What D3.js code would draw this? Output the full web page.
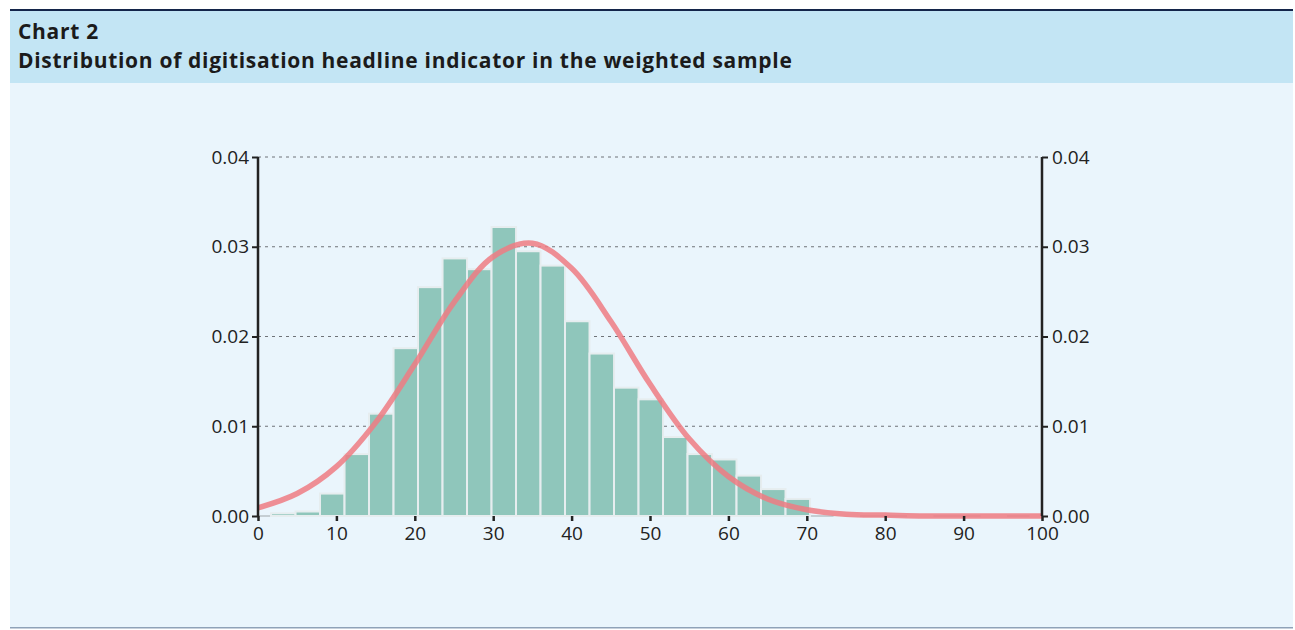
<!DOCTYPE html>
<html>
<head>
<meta charset="utf-8">
<script src="https://d3js.org/d3.v7.min.js"></script>
<style>
    body { margin: 0; background: #fff; }
    * { font-family: "Open Sans", sans-serif; }
    .axis text { font-size: 19px; fill: #222; }
    .grid line { stroke: #6f7378; stroke-dasharray: 3,4; }
    .bar { fill: #8fc6bb; stroke: #e6edef; stroke-width: 2; }
    .fit { fill: none; stroke: #ee7b82; stroke-opacity: 0.85; stroke-width: 5.5; }
</style>
</head>
<body>
<svg id="chart" width="1295" height="630"></svg>
<script>
// histogram bins (start of each bin, width 3.125)
var binStarts = [1.66, 4.79, 7.91, 11.04, 14.16, 17.29, 20.41, 23.54, 26.66, 29.79,
                 32.91, 36.04, 39.16, 42.29, 45.41, 48.54, 51.66, 54.79, 57.91, 61.04,
                 64.16, 67.29, 70.41, 73.54, 76.66, 79.79, 82.91, 86.04, 89.16, 92.29,
                 95.41, 98.54];
var binWidth = 3.125;
var density = [0.0003, 0.0005, 0.0025, 0.0069, 0.0114, 0.0187, 0.0255, 0.0287, 0.0275, 0.0322,
               0.0295, 0.0279, 0.0217, 0.0181, 0.0143, 0.0130, 0.0088, 0.0069, 0.0063, 0.0045,
               0.0030, 0.0019, 0, 0.0001, 0, 0, 0.0001, 0, 0, 0.0001,
               0, 0.0001];

// fitted density curve
var curveX = [0, 5, 10, 15, 20, 25, 30, 35, 40, 45, 50, 55, 60, 65, 70, 75, 80, 85, 90, 95, 100];
var curveY = [0.0009, 0.0025, 0.0055, 0.0104, 0.0169, 0.0238, 0.0289, 0.0304, 0.0276, 0.0217,
              0.0147, 0.0086, 0.0044, 0.0019, 0.0007, 0.0002, 0.0001, 0, 0, 0, 0];

var xTicks = [0, 10, 20, 30, 40, 50, 60, 70, 80, 90, 100];
var yTicks = [0, 0.01, 0.02, 0.03, 0.04];

var svg = d3.select("#chart");

// panel background
svg.append("rect").attr("x", 10).attr("y", 10).attr("width", 1283).attr("height", 618).attr("fill", "#eaf5fc");
svg.append("rect").attr("x", 10).attr("y", 10).attr("width", 1283).attr("height", 73).attr("fill", "#c3e5f4");
svg.append("rect").attr("x", 10).attr("y", 9).attr("width", 1283).attr("height", 2).attr("fill", "#14254a");
svg.append("rect").attr("x", 10).attr("y", 627).attr("width", 1283).attr("height", 1.5).attr("fill", "#8fa2b8");

svg.append("text").attr("x", 18).attr("y", 39).attr("font-size", 21).attr("font-weight", "bold")
    .attr("letter-spacing", 0.7).attr("fill", "#1b1b1b").text("Chart 2");
svg.append("text").attr("x", 18).attr("y", 68).attr("font-size", 21).attr("font-weight", "bold")
    .attr("letter-spacing", 0.7).attr("fill", "#1b1b1b")
    .text("Distribution of digitisation headline indicator in the weighted sample");

var x = d3.scaleLinear().domain([0, 100]).range([258, 1042]);
var y = d3.scaleLinear().domain([0, 0.04]).range([516, 157]);

// grid
svg.append("g").attr("class", "grid")
    .selectAll("line").data(yTicks.slice(1)).enter().append("line")
    .attr("x1", x(0)).attr("x2", x(100))
    .attr("y1", function(d) { return y(d); }).attr("y2", function(d) { return y(d); });

// x axis baseline
svg.append("line").attr("x1", x(0)).attr("x2", x(100)).attr("y1", y(0)).attr("y2", y(0))
    .attr("stroke", "#b9c0c6").attr("stroke-width", 1.5);

// bars
svg.append("g").selectAll("rect").data(density).enter().append("rect")
    .attr("class", "bar")
    .attr("x", function(d, i) { return x(binStarts[i]); })
    .attr("width", function(d, i) { return x(Math.min(binStarts[i] + binWidth, 100)) - x(binStarts[i]); })
    .attr("y", function(d) { return y(d); })
    .attr("height", function(d) { return y(0) - y(d); })
    .style("display", function(d) { return d > 0 ? null : "none"; });

// fitted curve
var line = d3.line()
    .x(function(d, i) { return x(curveX[i]); })
    .y(function(d) { return y(d); })
    .curve(d3.curveCatmullRom);
svg.append("path").attr("class", "fit").attr("d", line(curveY));

// axes
var xAxis = svg.append("g").attr("class", "axis")
    .attr("transform", "translate(0," + y(0) + ")")
    .call(d3.axisBottom(x).tickValues(xTicks).tickSize(5).tickPadding(6).tickFormat(d3.format("d")));
xAxis.select(".domain").remove();
xAxis.selectAll(".tick line").attr("stroke", "#222").attr("stroke-width", 2.5);

var yLeft = svg.append("g").attr("class", "axis")
    .attr("transform", "translate(" + x(0) + ",0)")
    .call(d3.axisLeft(y).tickValues(yTicks).tickSize(6).tickPadding(3).tickFormat(d3.format(".2f")));
var yRight = svg.append("g").attr("class", "axis")
    .attr("transform", "translate(" + x(100) + ",0)")
    .call(d3.axisRight(y).tickValues(yTicks).tickSize(6).tickPadding(4).tickFormat(d3.format(".2f")));
[yLeft, yRight].forEach(function(g) {
    g.select(".domain").attr("stroke", "#222").attr("stroke-width", 2.5)
        .attr("d", "M0," + y(0.04) + "V" + y(0));
    g.selectAll(".tick line").attr("stroke", "#222").attr("stroke-width", 2);
});
</script>
</body>
</html>
